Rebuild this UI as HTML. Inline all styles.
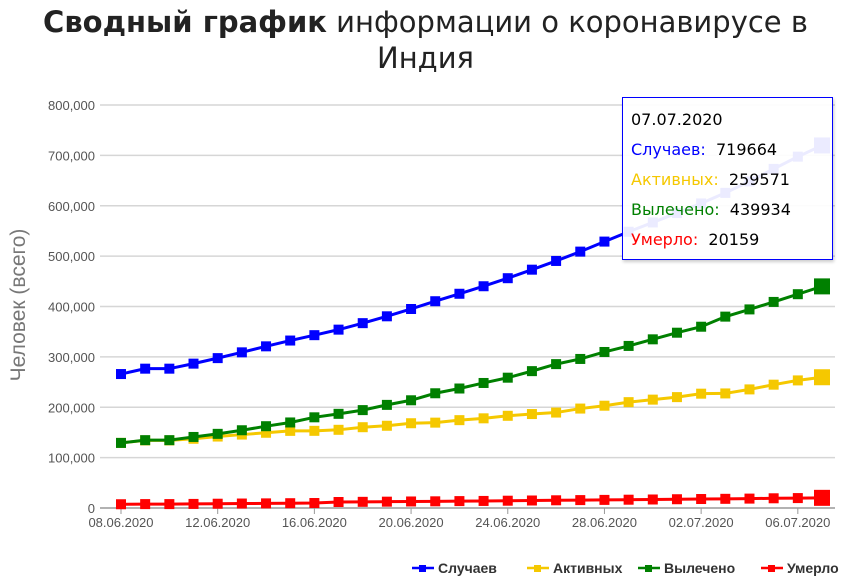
<!DOCTYPE html>
<html><head><meta charset="utf-8"><style>
body{margin:0;background:#fff;width:851px;height:579px;overflow:hidden;font-family:"Liberation Sans","DejaVu Sans",sans-serif}
#title{position:absolute;left:0;top:4px;width:851px;text-align:center;font-size:29px;line-height:36px;color:#222;font-family:"DejaVu Sans",sans-serif}
#tip{position:absolute;left:622px;top:97px;width:211px;height:163px;border:1px solid #0000ff;background:rgba(255,255,255,0.92);font-family:"DejaVu Sans",sans-serif;font-size:16px;padding:8px 0 0 8px;box-sizing:border-box;box-shadow:1px 2px 3px rgba(0,0,0,0.2)}
#tip div{height:30px;line-height:28px}
</style></head><body>
<div id="title"><b>Сводный график</b> информации о коронавирусе в<br>Индия</div>
<svg id="chart" width="851" height="579" style="position:absolute;left:0;top:0"></svg>
<div id="tip">
<div style="color:#000">07.07.2020</div>
<div><span style="color:#0000ff">Случаев:</span>&nbsp; 719664</div>
<div><span style="color:#f5c800">Активных:</span>&nbsp; 259571</div>
<div><span style="color:#008000">Вылечено:</span>&nbsp; 439934</div>
<div><span style="color:#ff0000">Умерло:</span>&nbsp; 20159</div>
</div>
<script>
const dates=["08.06.2020","09.06.2020","10.06.2020","11.06.2020","12.06.2020","13.06.2020","14.06.2020","15.06.2020","16.06.2020","17.06.2020","18.06.2020","19.06.2020","20.06.2020","21.06.2020","22.06.2020","23.06.2020","24.06.2020","25.06.2020","26.06.2020","27.06.2020","28.06.2020","29.06.2020","30.06.2020","01.07.2020","02.07.2020","03.07.2020","04.07.2020","05.07.2020","06.07.2020","07.07.2020"];
const cases=[265928,276583,276583,286579,297535,308993,320922,332424,343091,354065,366946,380532,395048,410461,425282,440215,456183,473105,490401,508953,528859,548318,566840,585493,604641,625544,648315,673165,697413,719664];
const active=[129247,134168,134168,137448,141842,145779,149348,153106,153178,155227,160384,163248,168269,169451,174387,178014,183022,186514,189463,197387,203051,210120,215125,220114,226947,227439,235433,244814,253287,259571];
const recovered=[129215,134670,134670,141029,147195,154330,162379,169798,180013,186935,194325,204711,213831,227756,237196,248190,258685,271697,285637,295881,309713,321723,334822,347979,359860,379892,394227,409083,424433,439934];
const deaths=[7466,7745,7745,8102,8498,8884,9195,9520,9900,11903,12237,12573,12948,13254,13699,14011,14476,14894,15301,15685,16095,16475,16893,17400,17834,18213,18655,19268,19693,20159];
const yTicks=[0,100000,200000,300000,400000,500000,600000,700000,800000];
const seriesNames=["Случаев","Активных","Вылечено","Умерло"];
const colors=["#0000ff","#f5c800","#008000","#ff0000"];
const X0=121,X1=822,Y0=508,Y1=105,YMAX=800000;
const sx=i=>X0+(X1-X0)*i/(dates.length-1);
const sy=v=>Y0-(Y0-Y1)*v/YMAX;
const svg=document.getElementById('chart');const NS="http://www.w3.org/2000/svg";
function el(t,a,p){const e=document.createElementNS(NS,t);for(const k in a)e.setAttribute(k,a[k]);(p||svg).appendChild(e);return e;}
yTicks.forEach(v=>{
 const l=el('line',{x1:X0-21,x2:835,y1:sy(v),y2:sy(v),stroke:v===0?'#999':'#d6d6d6','stroke-width':1.5});
 
 
 const t=el('text',{x:95,y:sy(v)+5,'text-anchor':'end','font-size':13,fill:'#555'});t.textContent=v.toLocaleString('en-US');
 
 
});
dates.forEach((d,i)=>{if(i%4===0){
 const tk=el('line',{x1:sx(i),x2:sx(i),y1:Y0,y2:Y0+6,stroke:'#999'});
 
 
 const t=el('text',{x:sx(i),y:527,'text-anchor':'middle','font-size':13,fill:'#555'});t.textContent=d;
 
 
}});
const yt=el('text',{x:0,y:0,transform:'translate(25,305) rotate(-90)','text-anchor':'middle','font-size':21,fill:'#777'});yt.textContent='Человек (всего)';


[cases,active,recovered,deaths].forEach((s,k)=>{
 const g=el('g',{});
 
 
 el('polyline',{points:s.map((v,i)=>sx(i)+','+sy(v)).join(' '),fill:'none',stroke:colors[k],'stroke-width':3},g);
 s.forEach((v,i)=>{const sz=i===s.length-1?16:10;
  const r=el('rect',{x:sx(i)-sz/2,y:sy(v)-sz/2,width:sz,height:sz,fill:colors[k]},g);
  
  
 });
});
const legX=[412,527,638,761];
seriesNames.forEach((n,k)=>{
 const g=el('g',{});
 
 
 el('line',{x1:legX[k],x2:legX[k]+22,y1:568,y2:568,stroke:colors[k],'stroke-width':2.5},g);
 el('rect',{x:legX[k]+7,y:565,width:7,height:7,fill:colors[k]},g);
 const t=el('text',{x:legX[k]+26,y:573,'font-size':14,fill:'#333','font-weight':'bold'},g);t.textContent=n;
});
</script>
</body></html>
